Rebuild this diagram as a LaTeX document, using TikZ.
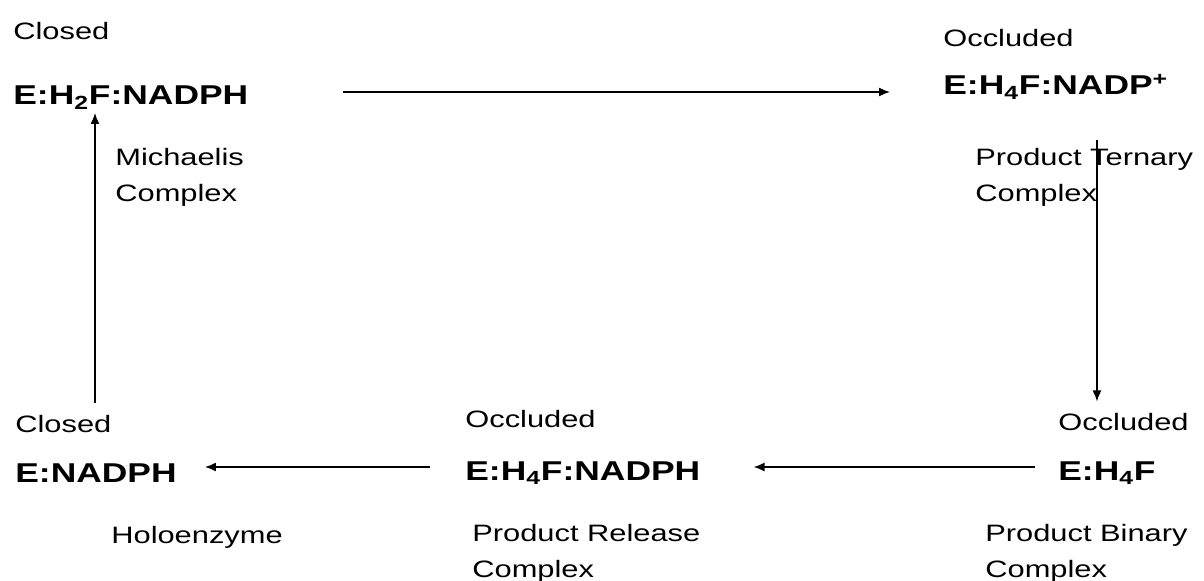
\documentclass[tikz,border=0pt]{standalone}
\usepackage{fontspec}
\setmainfont{Liberation Sans}[FakeStretch=1.3]
\usetikzlibrary{arrows.meta}

\begin{document}
\begin{tikzpicture}[x=0.02cm, y=-0.02cm,
    every node/.style={inner sep=0pt, anchor=base west},
    state/.style={font=\fontsize{13.5}{16}\selectfont},
    species/.style={font=\fontsize{15.5}{18}\selectfont\bfseries},
    note/.style={font=\fontsize{13.5}{20.4}\selectfont, align=left},
    flow/.style={-{Latex[length=2.2mm,width=1.8mm]}, line width=0.8pt}]
    \useasboundingbox (0,0) rectangle (1204,581);

    % top row
    \node[state] (tls) at (13,40) {Closed};
    \node[species] (tl) at (13,105) {E:H\textsubscript{2}F:NADPH};
    \node[note] (tld) at (115,201) {Michaelis\\Complex};

    \node[state] (trs) at (943,47) {Occluded};
    \node[species] (tr) at (943,95) {E:H\textsubscript{4}F:NADP\textsuperscript{+}};
    \node[note] (trd) at (975,201) {Product Ternary\\Complex};

    % bottom row
    \node[state] (bls) at (15,432) {Closed};
    \node[species] (bl) at (15,482) {E:NADPH};
    \node[note] (bld) at (111,543) {Holoenzyme};

    \node[state] (bms) at (465,427) {Occluded};
    \node[species] (bm) at (465,480) {E:H\textsubscript{4}F:NADPH};
    \node[note] (bmd) at (472,577) {Product Release\\Complex};

    \node[state] (brs) at (1058,430) {Occluded};
    \node[species] (br) at (1058,480) {E:H\textsubscript{4}F};
    \node[note] (brd) at (985,577) {Product Binary\\Complex};

    % cycle
    \draw[flow] ([xshift=6.6cm,yshift=0.26cm]tl.base west) -- ([xshift=-1.06cm,yshift=0.26cm]tl.base west -| tr.west);
    \draw[flow] ([xshift=3.08cm,yshift=-0.9cm]tr.base west) -- ([xshift=3.08cm,yshift=0.22cm]tr.base west |- brs.north);
    \draw[flow] ([xshift=-0.46cm,yshift=0.26cm]br.base west) -- ([xshift=1.06cm,yshift=0.26cm]br.base west -| bm.east);
    \draw[flow] ([xshift=-0.7cm,yshift=0.26cm]bm.base west) -- ([xshift=3.8cm,yshift=0.26cm]bm.base west -| bl.west);
    \draw[flow] ([xshift=1.64cm,yshift=0.22cm]tl.base west |- bls.north) -- ([xshift=1.64cm,yshift=-0.16cm]tl.base west);
\end{tikzpicture}
\end{document}
